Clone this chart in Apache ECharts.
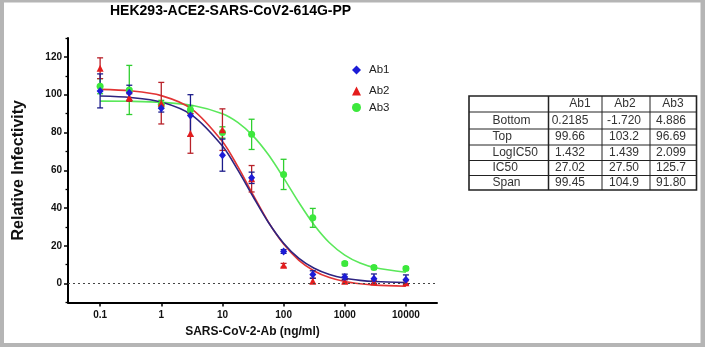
<!DOCTYPE html>
<html><head><meta charset="utf-8">
<script src="https://cdn.jsdelivr.net/npm/echarts@6/dist/echarts.min.js"></script>
<style>html,body{margin:0;padding:0;background:#fff}#c{width:705px;height:347px}</style>
</head><body><div id="c"></div>
<script>
// ---------- data ----------
const chartTitle = 'HEK293-ACE2-SARS-CoV2-614G-PP';
const xAxisName = 'SARS-CoV-2-Ab (ng/ml)';
const yAxisName = 'Relative Infectivity';

const conc = [0.1, 0.3, 1, 3, 10, 30, 100, 300, 1000, 3000, 10000];
const ab1Mean = [102, 101, 92.8, 89, 68, 56, 17, 4.8, 3.5, 2.6, 2.1];
const ab1Sd   = [9, 4, 2, 11, 8.5, 3, 1, 2, 1.5, 2.5, 2.5];
const ab2Mean = [114, 98.5, 95.5, 79.5, 81.5, 55.5, 9.7, 1.4, 1.2, 0.8, 0.5];
const ab2Sd   = [5.5, 2, 11, 10.5, 11, 7, 1, 1.5, 1, 1, 1];
const ab3Mean = [104.5, 102.5, 95, 92, 80, 79, 57.8, 34.8, 10.6, 8.5, 8];
const ab3Sd   = [4, 13, 2, 2, 3, 8, 8, 5, 1, 1, 1];

// fitted curves
const curveConc = [0.1, 0.316, 1, 3.16, 10, 17.8, 31.6, 56.2, 100, 178, 316, 562, 1000, 1778, 3162, 10000];
const ab1Curve = [99.3, 98.5, 96.1, 89.2, 72.8, 60.2, 46.1, 32.5, 21.4, 13.3, 8.1, 4.8, 2.8, 1.7, 1.1, 0.5];
const ab2Curve = [102.8, 102.0, 99.5, 92.4, 75.2, 62.0, 47.1, 32.7, 20.9, 12.3, 6.7, 3.2, 1.1, -0.1, -0.8, -1.4];
const ab3Curve = [96.6, 96.5, 96.0, 94.4, 89.9, 85.3, 78.2, 68.3, 56.0, 42.9, 31.0, 21.6, 15.1, 10.9, 8.4, 6.0];

const xTickConc = [0.1, 1, 10, 100, 1000, 10000];
const xTickLabels = ['0.1', '1', '10', '100', '1000', '10000'];
const yTicks = [0, 20, 40, 60, 80, 100, 120];
const yMinorTicks = [-10, 10, 30, 50, 70, 90, 110, 130];

const tableCols = ['Ab1', 'Ab2', 'Ab3'];
const tableRows = ['Bottom', 'Top', 'LogIC50', 'IC50', 'Span'];
const tableVals = [
  ['0.2185', '-1.720', '4.886'],
  ['99.66', '103.2', '96.69'],
  ['1.432', '1.439', '2.099'],
  ['27.02', '27.50', '125.7'],
  ['99.45', '104.9', '91.80']
];

// ---------- build ----------
const lg = Math.log10;
const FONT = 'Liberation Sans, Arial, sans-serif';
const C1 = '#1c1cd6', C1line = '#2e2480', C2 = '#e41c1c', C2line = '#e23434', C3 = '#3ce83c', C3line = '#5ae85a';

function pts(means) { return conc.map((c, i) => [lg(c), means[i]]); }
function errs(means, sds) { return conc.map((c, i) => [lg(c), means[i], sds[i]]); }
function curve(vals) { return curveConc.map((c, i) => [lg(c), vals[i]]); }

function errRender(color) {
  return function (params, api) {
    const x = api.value(0), m = api.value(1), s = api.value(2);
    const t = api.coord([x, m + s]), b = api.coord([x, m - s]);
    const w = 3, st = { stroke: color, lineWidth: 1.3 };
    return { type: 'group', children: [
      { type: 'line', shape: { x1: t[0], y1: t[1], x2: b[0], y2: b[1] }, style: st },
      { type: 'line', shape: { x1: t[0] - w, y1: t[1], x2: t[0] + w, y2: t[1] }, style: st },
      { type: 'line', shape: { x1: b[0] - w, y1: b[1], x2: b[0] + w, y2: b[1] }, style: st }
    ]};
  };
}

// table graphic
const tL = 469, tR = 696.5, colX = [548.5, 602, 650];
const rowY = [96, 112, 129, 145, 160.5, 175.5, 190];
const hdrCx = [580, 625, 673], valCx = [570, 624, 671];
const tableEls = [];
tableEls.push({ type: 'rect', shape: { x: tL, y: rowY[0], width: tR - tL, height: rowY[6] - rowY[0] },
  style: { fill: '#fff', stroke: '#222', lineWidth: 1.6 } });
for (let i = 1; i < 6; i++) tableEls.push({ type: 'line', shape: { x1: tL, y1: rowY[i], x2: tR, y2: rowY[i] }, style: { stroke: '#222', lineWidth: 1 } });
colX.forEach((x, i) => tableEls.push({ type: 'line', shape: { x1: x, y1: rowY[0], x2: x, y2: rowY[6] }, style: { stroke: '#222', lineWidth: i === 0 ? 1.5 : 1 } }));
tableCols.forEach((c, j) => tableEls.push({ type: 'text', x: hdrCx[j], y: (rowY[0] + rowY[1]) / 2,
  style: { text: c, fontSize: 12, fontFamily: FONT, fill: '#333', align: 'center', verticalAlign: 'middle' } }));
tableRows.forEach((r, i) => {
  const cy = (rowY[i + 1] + rowY[i + 2]) / 2;
  tableEls.push({ type: 'text', x: 492.5, y: cy, style: { text: r, fontSize: 12, fontFamily: FONT, fill: '#333', align: 'left', verticalAlign: 'middle' } });
  tableVals[i].forEach((v, j) => tableEls.push({ type: 'text', x: valCx[j], y: cy,
    style: { text: v, fontSize: 12, fontFamily: FONT, fill: '#333', align: 'center', verticalAlign: 'middle' } }));
});

const legendBase = { orient: 'vertical', left: 347, itemWidth: 9, itemHeight: 9, selectedMode: false,
  textStyle: { fontSize: 11.5, fontFamily: FONT, color: '#222', padding: [0, 0, 0, 3] } };

const chart = echarts.init(document.getElementById('c'), null, { renderer: 'canvas' });
chart.setOption({
  backgroundColor: '#fff',
  animation: false,
  title: { text: chartTitle, left: 110, top: 4, padding: 0,
    textStyle: { fontSize: 14, fontWeight: 'bold', fontFamily: FONT, color: '#000' } },
  legend: [
    Object.assign({}, legendBase, { top: 59, data: [{ name: 'Ab1', icon: 'diamond' }] }),
    Object.assign({}, legendBase, { top: 80, data: [{ name: 'Ab2', icon: 'triangle' }] }),
    Object.assign({}, legendBase, { top: 96.5, data: [{ name: 'Ab3', icon: 'circle' }] })
  ],
  grid: { left: 68, right: 268, top: 38, bottom: 44.5 },
  xAxis: {
    type: 'value', min: lg(0.1) - 0.525, max: lg(10000) + 0.508,
    name: xAxisName, nameLocation: 'middle', nameGap: 23,
    nameTextStyle: { fontSize: 12, fontWeight: 'bold', fontFamily: FONT, color: '#111' },
    axisLine: { onZero: false, lineStyle: { color: '#000', width: 2 } },
    axisTick: { customValues: xTickConc.map(lg), length: 4, lineStyle: { color: '#000', width: 1.5 } },
    axisLabel: { customValues: xTickConc.map(lg), margin: 8, fontSize: 10, fontWeight: 'bold', fontFamily: FONT, color: '#111',
      formatter: v => xTickLabels[xTickConc.findIndex(c => Math.abs(lg(c) - v) < 1e-6)] },
    splitLine: { show: false }
  },
  yAxis: [{
    type: 'value', min: -10, max: 130,
    name: yAxisName, nameLocation: 'middle', nameGap: 41, nameRotate: 90,
    nameTextStyle: { fontSize: 16, fontWeight: 'bold', fontFamily: FONT, color: '#111' },
    axisLine: { show: true, onZero: false, lineStyle: { color: '#000', width: 2 } },
    axisTick: { show: true, customValues: yTicks, length: 4, lineStyle: { color: '#000', width: 1.5 } },
    axisLabel: { customValues: yTicks, margin: 6, fontSize: 10, fontWeight: 'bold', fontFamily: FONT, color: '#111' },
    splitLine: { show: false }
  }, {
    type: 'value', min: -10, max: 130, position: 'left', offset: 0,
    axisLine: { show: false, onZero: false },
    axisTick: { show: true, customValues: yMinorTicks, length: 2.5, lineStyle: { color: '#000', width: 1.3 } },
    axisLabel: { show: false }, splitLine: { show: false }
  }],
  graphic: [
    { type: 'group', children: tableEls },
    { type: 'rect', shape: { x: 0, y: 0, width: 4, height: 347 }, style: { fill: '#b5b5b5' } },
    { type: 'rect', shape: { x: 700.5, y: 0, width: 5, height: 347 }, style: { fill: '#b5b5b5' } },
    { type: 'rect', shape: { x: 0, y: 0, width: 705, height: 2.5 }, style: { fill: '#b5b5b5' } },
    { type: 'rect', shape: { x: 0, y: 343, width: 705, height: 4 }, style: { fill: '#b5b5b5' } }
  ],
  series: [
    { name: 'Ab3 fit', type: 'line', data: curve(ab3Curve), smooth: 0.3, showSymbol: false, silent: true,
      lineStyle: { color: C3line, width: 1.6 }, z: 2,
      markLine: { silent: true, symbol: ['none', 'none'], label: { show: false },
        lineStyle: { color: '#444', type: [2, 3], width: 1 }, data: [{ yAxis: 0 }] } },
    { name: 'Ab2 fit', type: 'line', data: curve(ab2Curve), smooth: 0.3, showSymbol: false, silent: true,
      lineStyle: { color: C2line, width: 1.6 }, z: 2 },
    { name: 'Ab1 fit', type: 'line', data: curve(ab1Curve), smooth: 0.3, showSymbol: false, silent: true,
      lineStyle: { color: C1line, width: 1.6 }, z: 2 },
    { name: 'Ab3 SD', type: 'custom', data: errs(ab3Mean, ab3Sd), renderItem: errRender('#2fcf2f'), encode: { x: 0, y: 1 }, z: 3 },
    { name: 'Ab2 SD', type: 'custom', data: errs(ab2Mean, ab2Sd), renderItem: errRender('#b8222a'), encode: { x: 0, y: 1 }, z: 3 },
    { name: 'Ab1 SD', type: 'custom', data: errs(ab1Mean, ab1Sd), renderItem: errRender('#1c1c8a'), encode: { x: 0, y: 1 }, z: 3 },
    { name: 'Ab3', type: 'scatter', data: pts(ab3Mean), symbol: 'circle', symbolSize: 7, itemStyle: { color: C3, opacity: 1 }, z: 4 },
    { name: 'Ab2', type: 'scatter', data: pts(ab2Mean), symbol: 'triangle', symbolSize: 7, itemStyle: { color: C2, opacity: 1 }, z: 4 },
    { name: 'Ab1', type: 'scatter', data: pts(ab1Mean), symbol: 'diamond', symbolSize: [7, 8], itemStyle: { color: C1, opacity: 1 }, z: 4 }
  ]
});
</script>
</body></html>
